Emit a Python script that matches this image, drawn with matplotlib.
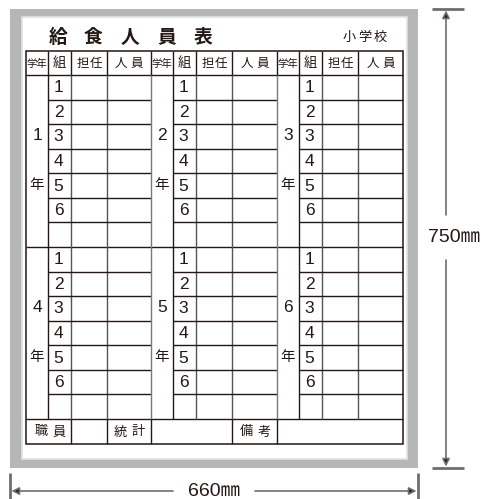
import matplotlib.pyplot as plt
from matplotlib.patches import Rectangle

# chart content
title_chars = ["給", "食", "人", "員", "表"]
school_label = "小学校"
header_labels = ["学年", "組", "担任", "人員"]
grades = ["1", "2", "3", "4", "5", "6"]
classes = ["1", "2", "3", "4", "5", "6"]
footer_labels = ["職員", "統計", "備考"]
width_label = "660㎜"
height_label = "750㎜"

JP = ["Noto Sans CJK JP", "DejaVu Sans"]
NUM = ["Liberation Sans", "Noto Sans CJK JP"]
DARK = "#231815"
MID = "#555555"
LIGHT = "#7a7a7a"

fig = plt.figure(figsize=(4.84, 4.99), dpi=100)
ax = fig.add_axes([0, 0, 1, 1])
ax.set_xlim(0, 484)
ax.set_ylim(499, 0)
ax.axis("off")

# board frame
ax.add_patch(Rectangle((10, 9), 408, 459, facecolor="#b5b6b6", edgecolor="none"))
ax.add_patch(Rectangle((21.5, 17), 385.5, 441.5, facecolor="white", edgecolor="#e2e2e2", lw=1.2))

# table geometry
group_x = [26, 151, 277]
col_off = [0, 22, 45, 81]
right = 403
top, head_bot = 51, 75
foot_top, bottom = 419, 444
row_h = (foot_top - head_bot) / 14
sec_tops = [head_bot, head_bot + 7 * row_h]


def hline(y, x1, x2, color=DARK, lw=1.0):
    ax.plot([x1, x2], [y, y], color=color, lw=lw, solid_capstyle="butt")


def vline(x, y1, y2, color=DARK, lw=1.0):
    ax.plot([x, x], [y1, y2], color=color, lw=lw, solid_capstyle="butt")


def spaced(text, cx, cy, gap, **kw):
    # draw a word one character at a time with a fixed gap
    n = len(text)
    for i, ch in enumerate(text):
        ax.text(cx + (i - (n - 1) / 2) * gap, cy, ch, ha="center", va="center",
                color=DARK, **kw)


# outer border and full-width lines
ax.add_patch(Rectangle((group_x[0], top), right - group_x[0], bottom - top,
                       facecolor="none", edgecolor=DARK, lw=1.1))
for y in [head_bot, sec_tops[1], foot_top]:
    hline(y, group_x[0], right)

group_right = group_x[1:] + [right]
head_gaps = [0, 0, 13, 16]
for gi, gx in enumerate(group_x):
    gr = group_right[gi]
    # header verticals and labels
    for ci, off in enumerate(col_off):
        if gx + off != group_x[0]:
            vline(gx + off, top, head_bot)
    col_edges = [gx + o for o in col_off] + [gr]
    hy = (top + head_bot) / 2 + 0.5
    for ci, lab in enumerate(header_labels):
        cx = (col_edges[ci] + col_edges[ci + 1]) / 2
        if ci == 0:
            ax.text(cx, hy, lab, fontsize=7.5, family=JP, ha="center", va="center", color=DARK)
        elif ci == 1:
            ax.text(cx, hy, lab, fontsize=9.5, family=JP, ha="center", va="center", color=DARK)
        else:
            spaced(lab, cx, hy, head_gaps[ci], fontsize=9, family=JP)
    # data verticals
    vline(gx + col_off[1], head_bot, foot_top, DARK)
    vline(gx + col_off[2], head_bot, foot_top, MID)
    vline(gx + col_off[3], head_bot, foot_top, MID)
    if gi > 0:
        vline(gx, head_bot, foot_top, LIGHT)
    for si, st in enumerate(sec_tops):
        for k in range(1, 7):
            hline(st + k * row_h, gx + col_off[1], gr)
        for k, c in enumerate(classes):
            ax.text(gx + col_off[1] + 10.5, st + (k + 0.5) * row_h + 0.5, c,
                    fontsize=12.5, family=NUM, ha="center", va="center", color=DARK)
        g = grades[si * 3 + gi]
        cx = gx + col_off[1] / 2
        ax.text(cx, st + 2.5 * row_h - 1, g, fontsize=12.5, family=NUM,
                ha="center", va="center", color=DARK)
        ax.text(cx, st + 4.5 * row_h - 1, "年", fontsize=10.5, family=JP,
                ha="center", va="center", color=DARK)

# footer
for x in [71, 107, 151, 232, 277]:
    vline(x, foot_top, bottom)
fy = (foot_top + bottom) / 2 + 0.5
for lab, cx in zip(footer_labels, [50, 129, 255.5]):
    spaced(lab, cx, fy, 18, fontsize=9.5, family=JP)

# title
for ch, cx in zip(title_chars, [58, 93, 130, 167, 203]):
    ax.text(cx, 37, ch, fontsize=13.5, family=JP, weight="bold",
            ha="center", va="center", color=DARK)
spaced(school_label, 364.5, 37, 15.5, fontsize=9.5, family=JP)

# dimension: height
DIM = "#6e6e6e"
hline(9, 432, 464, DIM, 2.0)
hline(468, 432, 464, DIM, 2.0)
arrow = dict(arrowstyle="-|>", color=DIM, lw=1.2, mutation_scale=11,
             shrinkA=0, shrinkB=0, fc="#231815", ec=DIM)
ax.annotate("", xy=(446, 10.5), xytext=(446, 215), arrowprops=arrow)
ax.annotate("", xy=(446, 466.5), xytext=(446, 260), arrowprops=arrow)
ax.text(454, 238, height_label, fontsize=14, family=NUM, ha="center",
        va="center", color=DARK)

# dimension: width
vline(10, 473, 499, DIM, 2.0)
vline(418, 473, 499, DIM, 2.0)
ax.annotate("", xy=(11.5, 491), xytext=(173, 491), arrowprops=arrow)
ax.annotate("", xy=(416.5, 491), xytext=(255, 491), arrowprops=arrow)
ax.text(214, 492, width_label, fontsize=14, family=NUM, ha="center",
        va="center", color=DARK)

fig.savefig("out.png", dpi=100)
